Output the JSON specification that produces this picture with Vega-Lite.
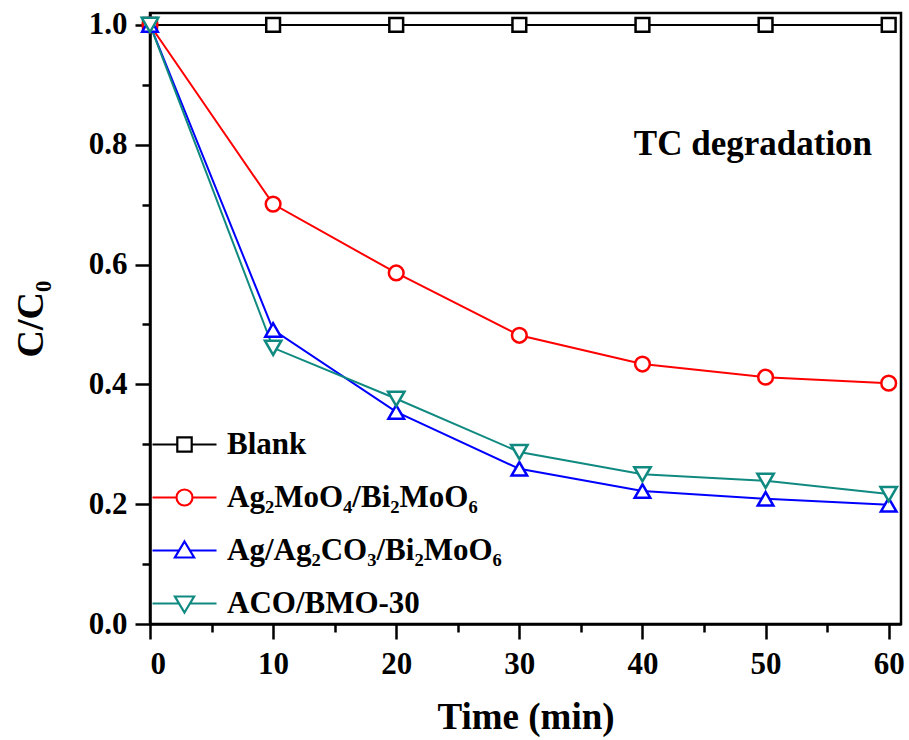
{
  "$schema": "https://vega.github.io/schema/vega-lite/v6.json",
  "autosize": "none",
  "width": 751,
  "height": 611,
  "padding": {"left": 150, "top": 13, "right": 8, "bottom": 116},
  "background": "white",
  "config": {
    "font": "Liberation Serif",
    "view": {"stroke": "black", "strokeWidth": 2.5},
    "axis": {
      "domainColor": "black", "domainWidth": 2.5, "tickColor": "black", "tickWidth": 2.5,
      "labelFont": "Liberation Serif", "labelFontWeight": "bold", "labelFontSize": 31, "labelColor": "black",
      "titleFont": "Liberation Serif", "titleFontWeight": "bold", "titleColor": "black", "grid": false
    }
  },
  "data": {
    "values": [
      {"t": 0, "c": 1.0, "s": "Blank"},
      {"t": 10, "c": 1.0, "s": "Blank"},
      {"t": 20, "c": 1.0, "s": "Blank"},
      {"t": 30, "c": 1.0, "s": "Blank"},
      {"t": 40, "c": 1.0, "s": "Blank"},
      {"t": 50, "c": 1.0, "s": "Blank"},
      {"t": 60, "c": 1.0, "s": "Blank"},
      {"t": 0, "c": 1.0, "s": "Ag₂MoO₄/Bi₂MoO₆"},
      {"t": 10, "c": 0.701, "s": "Ag₂MoO₄/Bi₂MoO₆"},
      {"t": 20, "c": 0.586, "s": "Ag₂MoO₄/Bi₂MoO₆"},
      {"t": 30, "c": 0.482, "s": "Ag₂MoO₄/Bi₂MoO₆"},
      {"t": 40, "c": 0.434, "s": "Ag₂MoO₄/Bi₂MoO₆"},
      {"t": 50, "c": 0.412, "s": "Ag₂MoO₄/Bi₂MoO₆"},
      {"t": 60, "c": 0.402, "s": "Ag₂MoO₄/Bi₂MoO₆"},
      {"t": 0, "c": 1.0, "s": "Ag/Ag₂CO₃/Bi₂MoO₆"},
      {"t": 10, "c": 0.491, "s": "Ag/Ag₂CO₃/Bi₂MoO₆"},
      {"t": 20, "c": 0.354, "s": "Ag/Ag₂CO₃/Bi₂MoO₆"},
      {"t": 30, "c": 0.259, "s": "Ag/Ag₂CO₃/Bi₂MoO₆"},
      {"t": 40, "c": 0.222, "s": "Ag/Ag₂CO₃/Bi₂MoO₆"},
      {"t": 50, "c": 0.209, "s": "Ag/Ag₂CO₃/Bi₂MoO₆"},
      {"t": 60, "c": 0.199, "s": "Ag/Ag₂CO₃/Bi₂MoO₆"},
      {"t": 0, "c": 1.0, "s": "ACO/BMO-30"},
      {"t": 10, "c": 0.461, "s": "ACO/BMO-30"},
      {"t": 20, "c": 0.376, "s": "ACO/BMO-30"},
      {"t": 30, "c": 0.287, "s": "ACO/BMO-30"},
      {"t": 40, "c": 0.25, "s": "ACO/BMO-30"},
      {"t": 50, "c": 0.239, "s": "ACO/BMO-30"},
      {"t": 60, "c": 0.217, "s": "ACO/BMO-30"}
    ]
  },
  "resolve": {"scale": {"shape": "independent", "size": "independent", "color": "independent"}},
  "layer": [
    {
      "mark": {"type": "line", "strokeWidth": 2},
      "encoding": {
        "x": {
          "field": "t", "type": "quantitative",
          "scale": {"domain": [0, 61], "nice": false, "zero": false},
          "axis": {
            "values": [0, 5, 10, 15, 20, 25, 30, 35, 40, 45, 50, 55, 60],
            "labelExpr": "datum.value % 10 === 0 ? datum.label : ''",
            "tickSize": {"condition": {"test": "datum.value % 10 === 0", "value": 15}, "value": 8},
            "labelPadding": 10,
            "title": "Time (min)", "titleFontSize": 37, "titlePadding": 20
          }
        },
        "y": {
          "field": "c", "type": "quantitative",
          "scale": {"domain": [0, 1.02], "nice": false},
          "axis": {
            "values": [0, 0.1, 0.2, 0.3, 0.4, 0.5, 0.6, 0.7, 0.8, 0.9, 1.0],
            "labelExpr": "round(datum.value * 10) % 2 === 0 ? format(datum.value, '.1f') : ''",
            "tickSize": {"condition": {"test": "round(datum.value * 10) % 2 === 0", "value": 15}, "value": 8},
            "labelPadding": 8,
            "title": "C/C₀", "titleFontSize": 38, "titlePadding": 38
          }
        },
        "color": {
          "field": "s", "type": "nominal",
          "scale": {
            "domain": ["Blank", "Ag₂MoO₄/Bi₂MoO₆", "Ag/Ag₂CO₃/Bi₂MoO₆", "ACO/BMO-30"],
            "range": ["#000000", "#ff0000", "#0000ff", "#108a80"]
          },
          "legend": null
        },
        "order": {"field": "t"}
      }
    },
    {
      "mark": {"type": "point", "filled": false, "fill": "white", "strokeWidth": 2.5, "opacity": 1},
      "encoding": {
        "x": {"field": "t", "type": "quantitative"},
        "y": {"field": "c", "type": "quantitative"},
        "color": {
          "field": "s", "type": "nominal",
          "scale": {
            "domain": ["Blank", "Ag₂MoO₄/Bi₂MoO₆", "Ag/Ag₂CO₃/Bi₂MoO₆", "ACO/BMO-30"],
            "range": ["#000000", "#ff0000", "#0000ff", "#108a80"]
          },
          "legend": null
        },
        "shape": {
          "field": "s", "type": "nominal",
          "scale": {
            "domain": ["Blank", "Ag₂MoO₄/Bi₂MoO₆", "Ag/Ag₂CO₃/Bi₂MoO₆", "ACO/BMO-30"],
            "range": ["square", "circle", "triangle-up", "triangle-down"]
          },
          "legend": null
        },
        "size": {
          "field": "s", "type": "nominal",
          "scale": {
            "domain": ["Blank", "Ag₂MoO₄/Bi₂MoO₆", "Ag/Ag₂CO₃/Bi₂MoO₆", "ACO/BMO-30"],
            "range": [190, 270, 450, 450]
          },
          "legend": null
        }
      }
    },
    {
      "transform": [{"filter": "datum.t > 1000"}],
      "mark": {"type": "point", "filled": false, "strokeWidth": 2.5, "size": 1600},
      "encoding": {
        "x": {"field": "t", "type": "quantitative"},
        "y": {"field": "c", "type": "quantitative"},
        "color": {
          "field": "s", "type": "nominal",
          "scale": {
            "domain": ["Blank", "Ag₂MoO₄/Bi₂MoO₆", "Ag/Ag₂CO₃/Bi₂MoO₆", "ACO/BMO-30"],
            "range": ["#000000", "#ff0000", "#0000ff", "#108a80"]
          },
          "legend": {
            "orient": "none", "legendX": 13, "legendY": 410, "title": null,
            "labelFont": "Liberation Serif", "labelFontWeight": "bold", "labelFontSize": 31, "labelColor": "black",
            "labelOffset": 21, "rowPadding": 16, "symbolSize": 1600, "symbolStrokeWidth": 2.2, "symbolOpacity": 1,
            "labelLimit": 500, "padding": 0
          }
        },
        "shape": {
          "field": "s", "type": "nominal",
          "scale": {
            "domain": ["Blank", "Ag₂MoO₄/Bi₂MoO₆", "Ag/Ag₂CO₃/Bi₂MoO₆", "ACO/BMO-30"],
            "range": [
              "M-1.6,0H-0.36M0.36,0H1.6M-0.36,-0.36H0.36V0.36H-0.36Z",
              "M-1.6,0H-0.4M0.4,0H1.6M0.4,0A0.4,0.4,0,1,1,-0.4,0A0.4,0.4,0,1,1,0.4,0Z",
              "M-1.6,0H-0.27M0.27,0H1.6M0,-0.45L0.48,0.35L-0.48,0.35Z",
              "M-1.6,0H-0.27M0.27,0H1.6M0,0.45L0.48,-0.35L-0.48,-0.35Z"
            ]
          },
          "legend": {
            "orient": "none", "legendX": 13, "legendY": 410, "title": null,
            "labelFont": "Liberation Serif", "labelFontWeight": "bold", "labelFontSize": 31, "labelColor": "black",
            "labelOffset": 21, "rowPadding": 16, "symbolSize": 1600, "symbolStrokeWidth": 2.2, "symbolOpacity": 1,
            "labelLimit": 500, "padding": 0
          }
        }
      }
    },
    {
      "data": {"values": [{"label": "TC degradation"}]},
      "mark": {"type": "text", "font": "Liberation Serif", "fontWeight": "bold", "fontSize": 35, "align": "right", "baseline": "alphabetic", "color": "black"},
      "encoding": {
        "x": {"datum": 58.65},
        "y": {"datum": 0.783},
        "text": {"field": "label"}
      }
    }
  ]
}
